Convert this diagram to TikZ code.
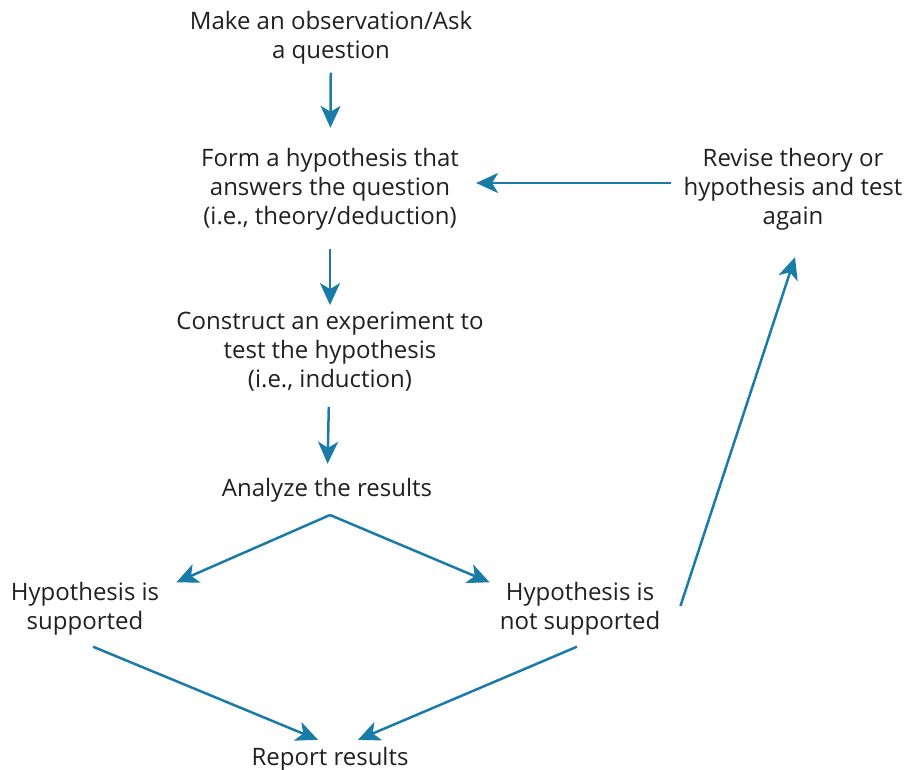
\documentclass[tikz,border=0pt]{standalone}
\usepackage{fontspec}
\setmainfont{Open Sans}
\usepackage{tikz}
\usetikzlibrary{arrows.meta, positioning}

\definecolor{flowblue}{HTML}{1A7AA8}
\definecolor{txtgray}{HTML}{231F20}

\tikzset{
    step text/.style={align=center, inner sep=0pt, text=txtgray,
        font=\fontsize{24}{29}\selectfont},
    flow/.style={draw=flowblue, line width=2.5pt,
        -{Stealth[length=22pt, width=20pt, inset=6pt]}},
}

\begin{document}
\begin{tikzpicture}[x=1pt, y=-1pt]
    \useasboundingbox (0,0) rectangle (906,770);
    % steps of the method
    \node[step text] (obs) at (331,38) {Make an observation/Ask\\a question};
    \node[step text] (hyp) at (330,189) {Form a hypothesis that\\answers the question\\(i.e., theory/deduction)};
    \node[step text] (exp) at (330,352) {Construct an experiment to\\test the hypothesis\\(i.e., induction)};
    \node[step text] (ana) at (327,490) {Analyze the results};
    \node[step text] (sup) at (85,609) {Hypothesis is\\supported};
    \node[step text] (nsup) at (580,609) {Hypothesis is\\not supported};
    \node[step text] (rep) at (330,759) {Report results};
    \node[step text] (rev) at (793,189) {Revise theory or\\hypothesis and test\\again};
    \coordinate (split) at (330,515);

    % connectors
    \draw[flow, shorten <=8pt, shorten >=20pt] (obs) -- (hyp);
    \draw[flow, shorten <=19pt, shorten >=7pt] (hyp) -- (exp);
    \draw[flow, shorten <=15pt, shorten >=14pt] (exp) -- (ana);
    \draw[flow] (split) -- ([xshift=17pt]sup.north east);
    \draw[flow] (split) -- ([xshift=-10pt]nsup.north west);
    \draw[flow] ([xshift=8pt, yshift=-11pt]sup.south) -- ([xshift=-12pt, yshift=7pt]rep.north);
    \draw[flow] ([xshift=-3pt, yshift=-11pt]nsup.south) -- ([xshift=28pt, yshift=7pt]rep.north);
    \draw[flow] ([xshift=20pt, yshift=3pt]nsup.east) -- ([xshift=2pt, yshift=-27pt]rev.south);
    \draw[flow] ([xshift=-12pt, yshift=6pt]rev.west) -- ([xshift=17pt, yshift=6pt]hyp.east);
\end{tikzpicture}
\end{document}
